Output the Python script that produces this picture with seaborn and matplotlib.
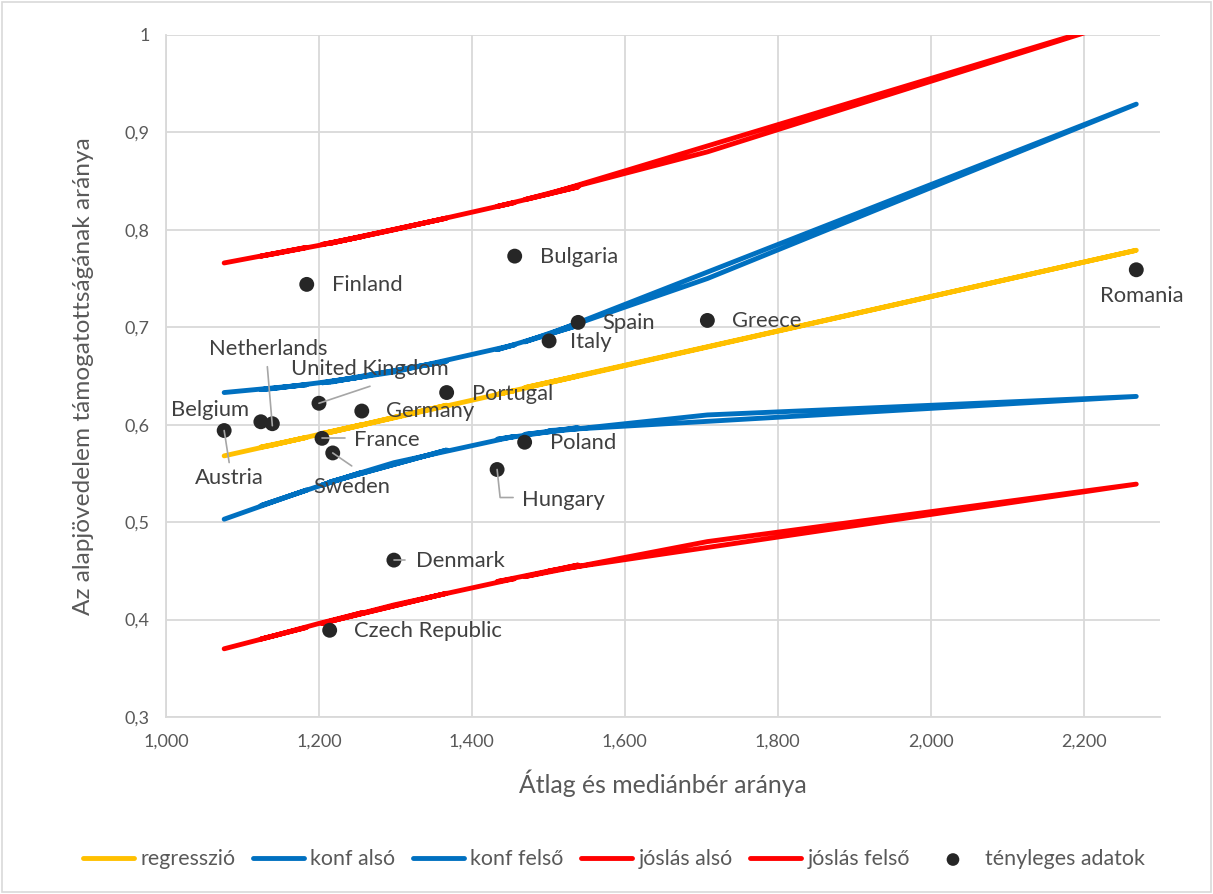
import numpy as np
import pandas as pd
import matplotlib
matplotlib.use("Agg")
import matplotlib.pyplot as plt
import seaborn as sns
from matplotlib.lines import Line2D
from matplotlib.patches import Rectangle
from matplotlib.ticker import FuncFormatter

# ---- data (rows in worksheet order) ----
countries = ["Austria", "Finland", "Belgium", "Netherlands", "United Kingdom",
             "Germany", "France", "Sweden", "Portugal", "Czech Republic",
             "Denmark", "Bulgaria", "Hungary", "Spain", "Poland", "Greece",
             "Romania", "Italy"]
wage_ratio = [1.076, 1.184, 1.124, 1.139, 1.200, 1.256, 1.204, 1.218, 1.367,
              1.214, 1.298, 1.456, 1.433, 1.539, 1.469, 1.708, 2.269, 1.501]
support = [0.594, 0.744, 0.603, 0.601, 0.622, 0.614, 0.586, 0.571, 0.633,
           0.389, 0.461, 0.773, 0.554, 0.705, 0.582, 0.707, 0.759, 0.686]
regression = [0.568, 0.587, 0.577, 0.579, 0.590, 0.600, 0.591, 0.593, 0.620,
              0.592, 0.607, 0.635, 0.631, 0.650, 0.638, 0.680, 0.779, 0.643]
conf_lower = [0.503, 0.533, 0.517, 0.521, 0.537, 0.551, 0.538, 0.542, 0.574,
              0.541, 0.561, 0.588, 0.585, 0.597, 0.590, 0.610, 0.629, 0.594]
conf_upper = [0.633, 0.641, 0.636, 0.637, 0.643, 0.649, 0.643, 0.644, 0.665,
              0.644, 0.654, 0.682, 0.677, 0.702, 0.685, 0.750, 0.929, 0.693]
pred_lower = [0.370, 0.392, 0.380, 0.383, 0.396, 0.407, 0.396, 0.399, 0.427,
              0.398, 0.415, 0.442, 0.439, 0.456, 0.444, 0.480, 0.539, 0.450]
pred_upper = [0.766, 0.782, 0.773, 0.775, 0.784, 0.793, 0.785, 0.787, 0.812,
              0.786, 0.800, 0.828, 0.824, 0.844, 0.831, 0.880, 1.019, 0.837]

df = pd.DataFrame({
    "country": countries, "wage_ratio": wage_ratio, "support": support,
    "regression": regression, "conf_lower": conf_lower, "conf_upper": conf_upper,
    "pred_lower": pred_lower, "pred_upper": pred_upper,
})

# ---- styling ----
sns.set_style("white")
plt.rcParams["font.family"] = ["Lato", "DejaVu Sans"]

YELLOW = "#FFC000"
BLUE = "#0070C0"
RED = "#FF0000"
GRID = "#D9D9D9"
TEXT = "#595959"
LABEL = "#404040"

fig = plt.figure(figsize=(12.13, 8.94), dpi=100)
ax = fig.add_axes([0.1369, 0.198, 0.8194, 0.7629])

series = [
    ("regression", "regresszió", YELLOW),
    ("conf_lower", "konf alsó", BLUE),
    ("conf_upper", "konf felső", BLUE),
    ("pred_lower", "jóslás alsó", RED),
    ("pred_upper", "jóslás felső", RED),
]
for col, name, colour in series:
    sns.lineplot(data=df, x="wage_ratio", y=col, sort=False, estimator=None,
                 color=colour, lw=3.5, solid_capstyle="round",
                 solid_joinstyle="round", label=name, ax=ax, zorder=3)

sns.scatterplot(data=df, x="wage_ratio", y="support", color="#262626",
                s=115, edgecolor="none", label="tényleges adatok", ax=ax,
                zorder=5)

ax.set_xlim(1.0, 2.3)
ax.set_ylim(0.3, 1.0)
ax.set_xticks(np.arange(1.0, 2.21, 0.2))
ax.set_yticks(np.arange(0.3, 1.01, 0.1))
ax.xaxis.set_major_formatter(FuncFormatter(lambda v, p: f"{v:.3f}".replace(".", ",")))
ax.yaxis.set_major_formatter(FuncFormatter(
    lambda v, p: "1" if abs(v - 1) < 1e-9 else f"{v:.1f}".replace(".", ",")))
ax.grid(True, color=GRID, lw=1.3)
ax.set_axisbelow(True)
for side in ["top", "right"]:
    ax.spines[side].set_visible(False)
for side in ["left", "bottom"]:
    ax.spines[side].set_color(GRID)
    ax.spines[side].set_linewidth(1.3)
ax.tick_params(length=0, labelsize=13, labelcolor=TEXT, pad=12)

ax.set_xlabel("Átlag és mediánbér aránya", fontsize=17.8, color=TEXT, labelpad=14)
ax.set_ylabel("Az alapjövedelem támogatottságának aránya", fontsize=17.6,
              color=TEXT, labelpad=22)

# ---- country labels: text offset (px) from its dot, alignment, leader path ----
label_style = {
    "Finland": ((25, -1), "left", None),
    "Bulgaria": ((25, -1), "left", None),
    "Romania": ((5, -26), "center", None),
    "Spain": ((24, -1), "left", None),
    "Greece": ((25, -1), "left", None),
    "Italy": ((21, -1), "left", None),
    "Portugal": ((25, -1), "left", None),
    "Germany": ((24, 0), "left", None),
    "Poland": ((25, -1), "left", None),
    "France": ((32, -2), "left", [(0, 0), (23, 0)]),
    "Sweden": ((-19, -34), "left", [(0, 0), (19, -13)]),
    "Hungary": ((25, -30), "left", [(0, 0), (3, -28), (16, -28)]),
    "Denmark": ((22, -1), "left", [(0, 0), (11, 0)]),
    "Czech Republic": ((24, -1), "left", None),
    "Austria": ((5, -47), "center", [(0, 0), (5, -32)]),
    "Belgium": ((-51, 12), "center", None),
    "Netherlands": ((-4, 75), "center", [(0, -2), (-5, 57)]),
    "United Kingdom": ((51, 34), "center", [(0, 0), (51, 17)]),
}

fig.canvas.draw()
for name, xv, yv in zip(countries, wage_ratio, support):
    (dx, dy), ha, leader = label_style[name]
    ax.annotate(name, (xv, yv), xytext=(dx, dy), textcoords="offset pixels",
                ha=ha, va="center", fontsize=15.8, color=LABEL, zorder=6)
    if leader:
        px, py = ax.transData.transform((xv, yv))
        xs = [px + a for a, b in leader]
        ys = [py + b for a, b in leader]
        fig.add_artist(Line2D(xs, ys, transform=None, color="#A6A6A6",
                              lw=1.2, zorder=4))

# ---- legend along the bottom ----
handles, labels = ax.get_legend_handles_labels()
ax.legend(handles, labels, loc="center", bbox_to_anchor=(0.506, 0.039),
          bbox_transform=fig.transFigure, ncol=6, frameon=False,
          fontsize=15.4, labelcolor=TEXT, handlelength=2.4,
          handletextpad=0.3, columnspacing=0.8, markerscale=0.85)

# chart-area border
fig.add_artist(Rectangle((0.002, 0.002), 0.996, 0.996, transform=fig.transFigure,
                         fill=False, edgecolor=GRID, lw=1.2))

fig.savefig("out.png", dpi=100)
